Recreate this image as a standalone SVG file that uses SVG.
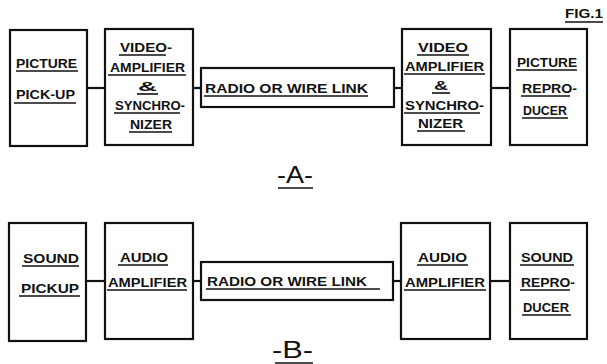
<svg xmlns="http://www.w3.org/2000/svg" width="607" height="364" viewBox="0 0 607 364">
<style>
.box{fill:#fff;stroke:#111;stroke-width:2.2}
.ln{stroke:#111;stroke-width:2.2;fill:none}
.ul{stroke:#111;stroke-width:1.6}
.t{font-family:"Liberation Sans","DejaVu Sans",sans-serif;font-weight:bold;font-size:13px;fill:#111}
.big{font-family:"Liberation Sans","DejaVu Sans",sans-serif;font-size:24px;fill:#111}
</style>
<rect width="607" height="364" fill="#fff"/>
<g id="connectors">
<line class="ln" x1="87" y1="88" x2="105" y2="88"/>
<line class="ln" x1="193" y1="88" x2="201" y2="88"/>
<line class="ln" x1="394" y1="88" x2="402" y2="88"/>
<line class="ln" x1="491" y1="88" x2="510" y2="88"/>
<line class="ln" x1="86" y1="281" x2="105" y2="281"/>
<line class="ln" x1="193" y1="281" x2="201" y2="281"/>
<line class="ln" x1="393" y1="281" x2="401" y2="281"/>
<line class="ln" x1="490" y1="281" x2="510" y2="281"/>
</g>
<g id="fig-label">
<text class="t" x="565" y="18" textLength="38" lengthAdjust="spacingAndGlyphs">FIG.1</text>
<line class="ul" x1="565" y1="22" x2="603" y2="22"/>
</g>
<g id="a-picture-pickup">
<rect class="box" x="10" y="30" width="77" height="116"/>
<text class="t" x="16" y="68" textLength="61" lengthAdjust="spacingAndGlyphs">PICTURE</text>
<line class="ul" x1="16" y1="71" x2="78" y2="71"/>
<text class="t" x="16" y="99" textLength="59" lengthAdjust="spacingAndGlyphs">PICK-UP</text>
<line class="ul" x1="14" y1="103" x2="76" y2="103"/>
</g>
<g id="a-video-amp-1">
<rect class="box" x="105" y="29" width="88" height="116"/>
<text class="t" x="120" y="52" textLength="52" lengthAdjust="spacingAndGlyphs">VIDEO-</text>
<line class="ul" x1="119" y1="55" x2="166" y2="55"/>
<text class="t" x="110" y="72" textLength="75" lengthAdjust="spacingAndGlyphs">AMPLIFIER</text>
<line class="ul" x1="108" y1="75" x2="186" y2="75"/>
<text class="t" x="138" y="91" textLength="19" lengthAdjust="spacingAndGlyphs">&amp;</text>
<line class="ul" x1="137" y1="94" x2="158" y2="94"/>
<text class="t" x="115" y="110" textLength="70" lengthAdjust="spacingAndGlyphs">SYNCHRO-</text>
<line class="ul" x1="114" y1="113" x2="180" y2="113"/>
<text class="t" x="130" y="129" textLength="42" lengthAdjust="spacingAndGlyphs">NIZER</text>
<line class="ul" x1="129" y1="132" x2="172" y2="132"/>
</g>
<g id="a-link">
<rect class="box" x="201" y="68" width="193" height="39"/>
<text class="t" x="205" y="93" textLength="163" lengthAdjust="spacingAndGlyphs">RADIO OR WIRE LINK</text>
<line class="ul" x1="204" y1="96" x2="368" y2="96"/>
</g>
<g id="a-video-amp-2">
<rect class="box" x="402" y="29" width="89" height="116"/>
<text class="t" x="418" y="52" textLength="50" lengthAdjust="spacingAndGlyphs">VIDEO</text>
<line class="ul" x1="417" y1="55" x2="469" y2="55"/>
<text class="t" x="405" y="71" textLength="79" lengthAdjust="spacingAndGlyphs">AMPLIFIER</text>
<line class="ul" x1="404" y1="74" x2="485" y2="74"/>
<text class="t" x="434" y="90" textLength="14" lengthAdjust="spacingAndGlyphs">&amp;</text>
<line class="ul" x1="432" y1="93" x2="450" y2="93"/>
<text class="t" x="405" y="110" textLength="79" lengthAdjust="spacingAndGlyphs">SYNCHRO-</text>
<line class="ul" x1="404" y1="113" x2="480" y2="113"/>
<text class="t" x="418" y="128" textLength="45" lengthAdjust="spacingAndGlyphs">NIZER</text>
<line class="ul" x1="417" y1="131" x2="465" y2="131"/>
</g>
<g id="a-picture-reproducer">
<rect class="box" x="510" y="29" width="77" height="116"/>
<text class="t" x="517" y="67" textLength="60" lengthAdjust="spacingAndGlyphs">PICTURE</text>
<line class="ul" x1="516" y1="70" x2="577" y2="70"/>
<text class="t" x="522" y="93" textLength="55" lengthAdjust="spacingAndGlyphs">REPRO-</text>
<line class="ul" x1="521" y1="96" x2="570" y2="96"/>
<text class="t" x="523" y="115" textLength="44" lengthAdjust="spacingAndGlyphs">DUCER</text>
<line class="ul" x1="522" y1="118" x2="568" y2="118"/>
</g>
<g id="label-a">
<text class="big" x="277" y="183" textLength="36" lengthAdjust="spacingAndGlyphs">-A-</text>
<line class="ul" x1="278" y1="188" x2="313" y2="188"/>
</g>
<g id="b-sound-pickup">
<rect class="box" x="9" y="223" width="77" height="118"/>
<text class="t" x="23" y="263" textLength="56" lengthAdjust="spacingAndGlyphs">SOUND</text>
<line class="ul" x1="22" y1="266" x2="79" y2="266"/>
<text class="t" x="21" y="293" textLength="58" lengthAdjust="spacingAndGlyphs">PICKUP</text>
<line class="ul" x1="19" y1="296" x2="80" y2="296"/>
</g>
<g id="b-audio-amp-1">
<rect class="box" x="105" y="223" width="88" height="116"/>
<text class="t" x="120" y="262" textLength="48" lengthAdjust="spacingAndGlyphs">AUDIO</text>
<line class="ul" x1="118" y1="265" x2="168" y2="265"/>
<text class="t" x="108" y="287" textLength="79" lengthAdjust="spacingAndGlyphs">AMPLIFIER</text>
<line class="ul" x1="107" y1="290" x2="187" y2="290"/>
</g>
<g id="b-link">
<rect class="box" x="201" y="262" width="192" height="38"/>
<text class="t" x="207" y="286" textLength="160" lengthAdjust="spacingAndGlyphs">RADIO OR WIRE LINK</text>
<line class="ul" x1="206" y1="289" x2="380" y2="289"/>
</g>
<g id="b-audio-amp-2">
<rect class="box" x="401" y="223" width="89" height="116"/>
<text class="t" x="418" y="262" textLength="49" lengthAdjust="spacingAndGlyphs">AUDIO</text>
<line class="ul" x1="417" y1="265" x2="468" y2="265"/>
<text class="t" x="405" y="287" textLength="80" lengthAdjust="spacingAndGlyphs">AMPLIFIER</text>
<line class="ul" x1="404" y1="290" x2="486" y2="290"/>
</g>
<g id="b-sound-reproducer">
<rect class="box" x="510" y="223" width="77" height="116"/>
<text class="t" x="521" y="262" textLength="52" lengthAdjust="spacingAndGlyphs">SOUND</text>
<line class="ul" x1="520" y1="265" x2="574" y2="265"/>
<text class="t" x="521" y="287" textLength="54" lengthAdjust="spacingAndGlyphs">REPRO-</text>
<line class="ul" x1="520" y1="290" x2="570" y2="290"/>
<text class="t" x="523" y="312" textLength="46" lengthAdjust="spacingAndGlyphs">DUCER</text>
<line class="ul" x1="522" y1="315" x2="571" y2="315"/>
</g>
<g id="label-b">
<text class="big" x="272" y="358" textLength="41" lengthAdjust="spacingAndGlyphs">-B-</text>
<line class="ul" x1="275" y1="363" x2="313" y2="363"/>
</g>
</svg>
